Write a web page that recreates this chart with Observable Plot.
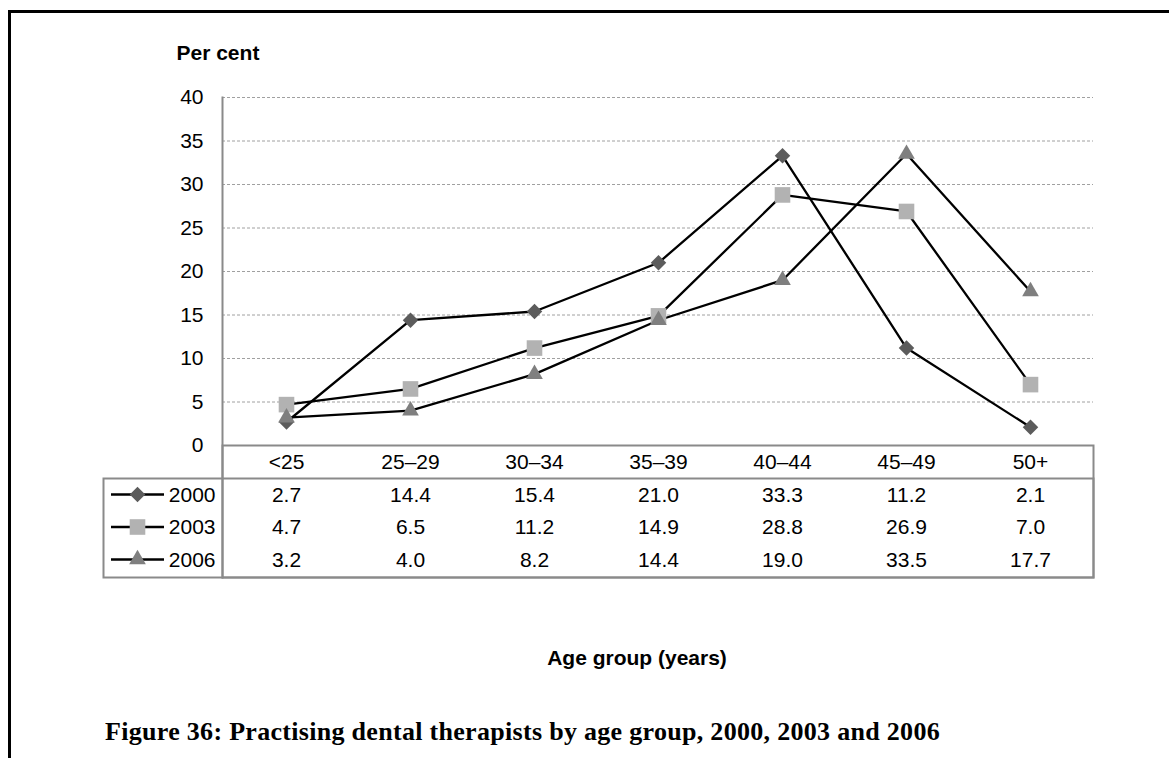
<!DOCTYPE html>
<html>
<head>
<meta charset="utf-8">
<script src="https://cdn.jsdelivr.net/npm/d3@7"></script>
<script src="https://cdn.jsdelivr.net/npm/@observablehq/plot@0.6"></script>
<style>
  html, body { margin: 0; padding: 0; background: #fff; width: 1169px; height: 758px; overflow: hidden; position: relative; }
  #border { position: absolute; left: 8px; top: 10px; width: 2000px; height: 2000px; border-left: 3px solid #000; border-top: 3px solid #000; pointer-events: none; }
  #chart { position: absolute; left: 0; top: 0; }
  #caption { position: absolute; left: 105px; top: 717px; font-family: "Liberation Serif", "Times New Roman", serif; font-weight: bold; font-size: 26px; line-height: 30px; white-space: nowrap; color: #000; }
</style>
</head>
<body>
<div id="border"></div>
<div id="chart"></div>
<div id="caption">Figure 36: Practising dental therapists by age group, 2000, 2003 and 2006</div>
<script>
// ---- data ----
const ages = ["<25", "25–29", "30–34", "35–39", "40–44", "45–49", "50+"];
const years = ["2000", "2003", "2006"];
const v2000 = [2.7, 14.4, 15.4, 21.0, 33.3, 11.2, 2.1];
const v2003 = [4.7, 6.5, 11.2, 14.9, 28.8, 26.9, 7.0];
const v2006 = [3.2, 4.0, 8.2, 14.4, 19.0, 33.5, 17.7];
const yTicks = [0, 5, 10, 15, 20, 25, 30, 35, 40];
const yLabel = "Per cent";
const xLabel = "Age group (years)";

// ---- styles ----
const seriesValues = [v2000, v2003, v2006];
const symbols = ["diamond2", "square", "triangle"];
const radii = [7.0, 8.8, 6.2];
const fills = ["#5c5c5c", "#b2b2b2", "#7f7f7f"];
const rowDy = [49.5, 82, 114.5];
const tableGray = "#8a8a8a";

const data = years.flatMap((yr, s) => ages.map((a, i) => ({year: yr, age: a, value: seriesValues[s][i]})));

const legendLine = { draw(ctx) { ctx.moveTo(-26.5, 0); ctx.lineTo(26.5, 0); } };

const marks = [
  Plot.gridY(yTicks.filter(d => d > 0), {stroke: "#a0a0a0", strokeOpacity: 1, strokeWidth: 1, strokeDasharray: "3,2"}),
  Plot.axisY(yTicks, {tickSize: 0, tickPadding: 19, fontSize: 21, label: null}),
  // y-axis line extended through table
  Plot.frame({anchor: "left", stroke: tableGray, strokeWidth: 2, insetBottom: -132}),
  // table: category + values block
  Plot.frame({stroke: tableGray, strokeWidth: 2, insetTop: 348, insetBottom: -132}),
  // table: header separator and legend column
  Plot.frame({stroke: tableGray, strokeWidth: 2, insetLeft: -119, insetTop: 381, insetBottom: -132}),
  // header categories
  Plot.text(ages, {x: d => d, text: d => d, frameAnchor: "bottom", lineAnchor: "middle", dy: 17, fontSize: 21}),
  // axis labels
  Plot.text([yLabel], {frameAnchor: "top-left", lineAnchor: "middle", text: d => d, dx: -46, dy: -44, textAnchor: "start", fontWeight: "bold", fontSize: 21}),
  Plot.text([xLabel], {frameAnchor: "bottom", lineAnchor: "middle", text: d => d, dx: -21, dy: 213, fontWeight: "bold", fontSize: 21}),
  // series lines
  Plot.line(data, {x: "age", y: "value", z: "year", stroke: "#000", strokeWidth: 2.3})
];

years.forEach((yr, s) => {
  const rows = data.filter(d => d.year === yr);
  marks.push(
    Plot.dot(rows, {x: "age", y: "value", symbol: symbols[s], r: radii[s], fill: fills[s], stroke: "none"}),
    Plot.text(rows, {x: "age", text: d => d.value.toFixed(1), frameAnchor: "bottom", lineAnchor: "middle", dy: rowDy[s], fontSize: 21}),
    Plot.text([yr], {frameAnchor: "bottom-left", lineAnchor: "middle", text: d => d, dx: -7, dy: rowDy[s], textAnchor: "end", fontSize: 21}),
    Plot.dot([yr], {frameAnchor: "bottom-left", symbol: legendLine, r: 5, dx: -85, dy: rowDy[s] - 0.5, stroke: "#000", strokeWidth: 2.3, fill: "none"}),
    Plot.dot([yr], {frameAnchor: "bottom-left", symbol: symbols[s], r: radii[s], dx: -85, dy: rowDy[s] - 0.5, fill: fills[s], stroke: "none"})
  );
});

const chart = Plot.plot({
  width: 1169,
  height: 700,
  marginLeft: 222,
  marginRight: 76,
  marginTop: 97,
  marginBottom: 255,
  style: {fontFamily: "'Liberation Sans', Arial, sans-serif", fontSize: "21px", color: "#000", background: "transparent", overflow: "visible"},
  x: {type: "point", domain: ages, padding: 0.5, axis: null},
  y: {domain: [0, 40], axis: null, label: null},
  marks
});
document.getElementById("chart").appendChild(chart);

// fit caption width to reference
const cap = document.getElementById("caption");
const target = 835;
const w = cap.getBoundingClientRect().width;
const n = cap.textContent.length;
cap.style.letterSpacing = ((target - w) / n) + "px";
</script>
</body>
</html>
